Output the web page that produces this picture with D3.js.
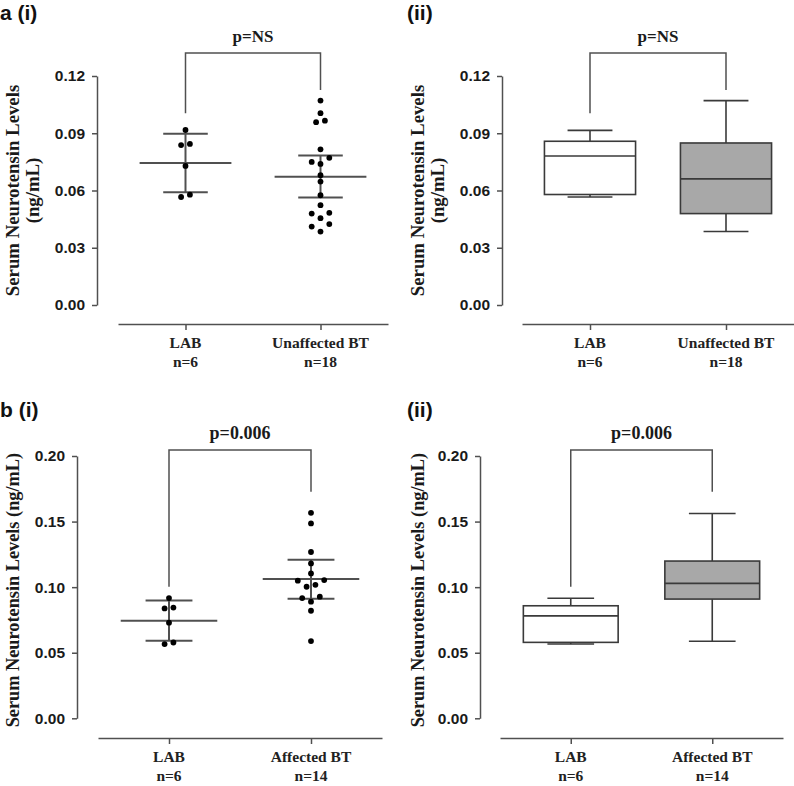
<!DOCTYPE html>
<html><head><meta charset="utf-8">
<script src="https://cdn.jsdelivr.net/npm/d3@7"></script>
<style>body{margin:0;background:#fff}svg{display:block}</style>
</head><body>
<svg id="chart" width="794" height="786"></svg>
<script>
// ---------- data ----------
const categoriesA = ["LAB", "Unaffected BT"];
const countsA = ["n=6", "n=18"];
const categoriesB = ["LAB", "Affected BT"];
const countsB = ["n=6", "n=14"];

const yTicksA = [0, 0.03, 0.06, 0.09, 0.12];
const yTicksB = [0, 0.05, 0.10, 0.15, 0.20];

const labValues = [0.0917, 0.0844, 0.0838, 0.0729, 0.0578, 0.0566];
const unaffectedValues = [0.1071, 0.1005, 0.0966, 0.0958, 0.0816, 0.0771, 0.0750, 0.0739, 0.0680,
  0.0647, 0.0575, 0.0523, 0.0483, 0.0479, 0.0455, 0.0424, 0.0411, 0.0385];
const affectedValues = [0.1567, 0.1486, 0.1268, 0.1181, 0.1105, 0.1054, 0.1049, 0.1018, 0.1003,
  0.0927, 0.0917, 0.0889, 0.0820, 0.0589];

// mean, lower and upper error line
const labMeanSd = [0.0744, 0.0591, 0.0898];
const unaffectedMeanSd = [0.0672, 0.0563, 0.0783];
const affectedMeanSd = [0.1062, 0.0912, 0.1209];

// box plots: min, q1, median, q3, max
const labBox = [0.0566, 0.0579, 0.0781, 0.0858, 0.0915];
const unaffectedBox = [0.0385, 0.0479, 0.0661, 0.0849, 0.1071];
const affectedBox = [0.0587, 0.0909, 0.1029, 0.1199, 0.1562];

// significance brackets: left leg end, right leg end, top
const bracketA = [0.1005, 0.1127, 0.1321];
const bracketB = [0.1003, 0.1727, 0.2046];
const pLabelA = "p=NS";
const pLabelB = "p=0.006";

const yTitle1 = "Serum Neurotensin Levels";
const yTitle2 = "(ng/mL)";
const yTitleFull = "Serum Neurotensin Levels (ng/mL)";

// ---------- drawing ----------
const svg = d3.select("#chart");
const LINE = "#505050";
const serif = "'Liberation Serif','Times New Roman',serif";
const sans = "'Liberation Sans',Arial,sans-serif";

function beeswarm(values, y, spacing, thr) {
  const sorted = values.map((v, i) => ({v, i})).sort((a, b) => b.v - a.v);
  const groups = [];
  let cur = [];
  sorted.forEach(d => {
    if (cur.length && y(d.v) - y(cur[cur.length - 1].v) > thr) { groups.push(cur); cur = []; }
    cur.push(d);
  });
  if (cur.length) groups.push(cur);
  const out = [];
  groups.forEach(g => {
    const k = g.length;
    const slots = d3.range(k).map(i => (i - (k - 1) / 2) * spacing);
    let lo = 0, hi = k - 1;
    g.forEach((d, j) => {
      let s;
      if (j % 2 === 0) { s = slots[hi]; hi--; } else { s = slots[lo]; lo++; }
      out.push({v: d.v, dx: s});
    });
  });
  return out;
}

function panel(o) {
  const g = svg.append("g");
  const y = d3.scaleLinear().domain([0, o.ticks[o.ticks.length - 1]]).range([o.yBottom, o.yTop]);
  const x = d3.scalePoint().domain(o.cats).range([o.xr0, o.xr1]).padding(0.5);
  const step = x.step();

  // y axis
  const ya = g.append("g").attr("transform", `translate(${o.axisX},0)`)
    .call(d3.axisLeft(y).tickValues(o.ticks).tickFormat(d3.format(".2f")).tickSize(5).tickSizeOuter(0).tickPadding(7));
  ya.select(".domain").attr("stroke", LINE).attr("stroke-width", 1.5);
  ya.selectAll(".tick line").attr("stroke", LINE).attr("stroke-width", 1.5);
  ya.selectAll(".tick text").attr("font-family", sans).attr("font-weight", "bold")
    .attr("font-size", 15.5).attr("fill", "#1a1a1a");

  // x axis
  const xa = g.append("g").attr("transform", `translate(0,${o.xAxisY})`)
    .call(d3.axisBottom(x).tickSize(6).tickSizeOuter(0).tickFormat(""));
  xa.select(".domain").attr("stroke", LINE).attr("stroke-width", 1.5);
  xa.selectAll(".tick line").attr("stroke", LINE).attr("stroke-width", 1.5);
  o.cats.forEach((c, i) => {
    const t = g.append("text").attr("text-anchor", "middle").attr("font-family", serif)
      .attr("font-weight", "bold").attr("font-size", 15.5).attr("fill", "#222");
    t.append("tspan").attr("x", x(c)).attr("y", o.xAxisY + 24).text(c);
    t.append("tspan").attr("x", x(c)).attr("y", o.xAxisY + 43).text(o.ns[i]);
  });

  // y title
  const midY = (o.yTop + o.yBottom) / 2 + o.titleShift;
  o.yTitles.forEach((txt, i) => {
    g.append("text").attr("transform", `translate(${o.axisX - o.titleOffsets[i]},${midY}) rotate(-90)`)
      .attr("text-anchor", "middle").attr("font-family", serif).attr("font-weight", "bold")
      .attr("font-size", o.titleSize).attr("fill", "#1a1a1a").text(txt);
  });

  // bracket
  const xl = x(o.cats[0]), xr = x(o.cats[1]);
  g.append("path").attr("fill", "none").attr("stroke", LINE).attr("stroke-width", 1.5)
    .attr("d", `M${xl},${y(o.bracket[0])}V${y(o.bracket[2])}H${xr}V${y(o.bracket[1])}`);
  g.append("text").attr("x", (xl + xr) / 2).attr("y", y(o.bracket[2]) - 11).attr("text-anchor", "middle")
    .attr("font-family", serif).attr("font-weight", "bold").attr("font-size", o.pSize).attr("fill", "#1a1a1a")
    .text(o.pLabel);

  // panel letter
  g.append("text").attr("x", o.letterX).attr("y", o.letterY).attr("font-family", sans)
    .attr("font-weight", "bold").attr("font-size", 21).attr("fill", "#111").text(o.letter);

  if (o.kind === "scatter") {
    o.series.forEach((vals, i) => {
      const cx = x(o.cats[i]);
      const ms = o.stats[i];
      const wMean = step * 0.34, wSd = step * 0.165;
      g.append("line").attr("x1", cx).attr("x2", cx).attr("y1", y(ms[1])).attr("y2", y(ms[2]))
        .attr("stroke", LINE).attr("stroke-width", 2);
      g.append("line").attr("x1", cx - wMean).attr("x2", cx + wMean).attr("y1", y(ms[0])).attr("y2", y(ms[0]))
        .attr("stroke", LINE).attr("stroke-width", 2);
      [ms[1], ms[2]].forEach(v => {
        g.append("line").attr("x1", cx - wSd).attr("x2", cx + wSd).attr("y1", y(v)).attr("y2", y(v))
          .attr("stroke", LINE).attr("stroke-width", 2);
      });
      g.selectAll(null).data(beeswarm(vals, y, 8.8, 5.8)).join("circle")
        .attr("cx", d => cx + d.dx).attr("cy", d => y(d.v)).attr("r", 2.9).attr("fill", "#000");
    });
  } else {
    o.boxes.forEach((b, i) => {
      const cx = x(o.cats[i]);
      const hw = step * 0.335, cw = step * 0.165;
      const st = "#3a3a3a";
      g.append("line").attr("x1", cx).attr("x2", cx).attr("y1", y(b[4])).attr("y2", y(b[3]))
        .attr("stroke", st).attr("stroke-width", 1.6);
      g.append("line").attr("x1", cx).attr("x2", cx).attr("y1", y(b[1])).attr("y2", y(b[0]))
        .attr("stroke", st).attr("stroke-width", 1.6);
      [b[0], b[4]].forEach(v => g.append("line").attr("x1", cx - cw).attr("x2", cx + cw)
        .attr("y1", y(v)).attr("y2", y(v)).attr("stroke", st).attr("stroke-width", 1.6));
      g.append("rect").attr("x", cx - hw).attr("width", 2 * hw).attr("y", y(b[3]))
        .attr("height", y(b[1]) - y(b[3])).attr("fill", o.fills[i]).attr("stroke", st).attr("stroke-width", 1.6);
      g.append("line").attr("x1", cx - hw).attr("x2", cx + hw).attr("y1", y(b[2])).attr("y2", y(b[2]))
        .attr("stroke", st).attr("stroke-width", 1.6);
    });
  }
}

const fills = ["#ffffff", "#a8a8a8"];

panel({kind: "scatter", letter: "a (i)", letterX: 0, letterY: 20,
  axisX: 97, yTop: 76, yBottom: 305, xAxisY: 324, xr0: 118, xr1: 388,
  ticks: yTicksA, cats: categoriesA, ns: countsA, bracket: bracketA, pLabel: pLabelA, pSize: 17,
  yTitles: [yTitle1, yTitle2], titleOffsets: [78, 58], titleSize: 18.8, titleShift: 0,
  series: [labValues, unaffectedValues], stats: [labMeanSd, unaffectedMeanSd]});

panel({kind: "box", letter: "(ii)", letterX: 407, letterY: 20,
  axisX: 502, yTop: 76, yBottom: 305, xAxisY: 324, xr0: 522, xr1: 794,
  ticks: yTicksA, cats: categoriesA, ns: countsA, bracket: bracketA, pLabel: pLabelA, pSize: 17,
  yTitles: [yTitle1, yTitle2], titleOffsets: [78, 58], titleSize: 18.8, titleShift: 0,
  boxes: [labBox, unaffectedBox], fills});

panel({kind: "scatter", letter: "b (i)", letterX: 0, letterY: 417,
  axisX: 77, yTop: 456, yBottom: 718.3, xAxisY: 738, xr0: 98, xr1: 382,
  ticks: yTicksB, cats: categoriesB, ns: countsB, bracket: bracketB, pLabel: pLabelB, pSize: 18,
  yTitles: [yTitleFull], titleOffsets: [58], titleSize: 18.3, titleShift: 3,
  series: [labValues, affectedValues], stats: [labMeanSd, affectedMeanSd]});

panel({kind: "box", letter: "(ii)", letterX: 407, letterY: 417,
  axisX: 480, yTop: 456, yBottom: 718.3, xAxisY: 738, xr0: 500, xr1: 783,
  ticks: yTicksB, cats: categoriesB, ns: countsB, bracket: bracketB, pLabel: pLabelB, pSize: 18,
  yTitles: [yTitleFull], titleOffsets: [56], titleSize: 18.3, titleShift: 3,
  boxes: [labBox, affectedBox], fills});
</script>
</body></html>
